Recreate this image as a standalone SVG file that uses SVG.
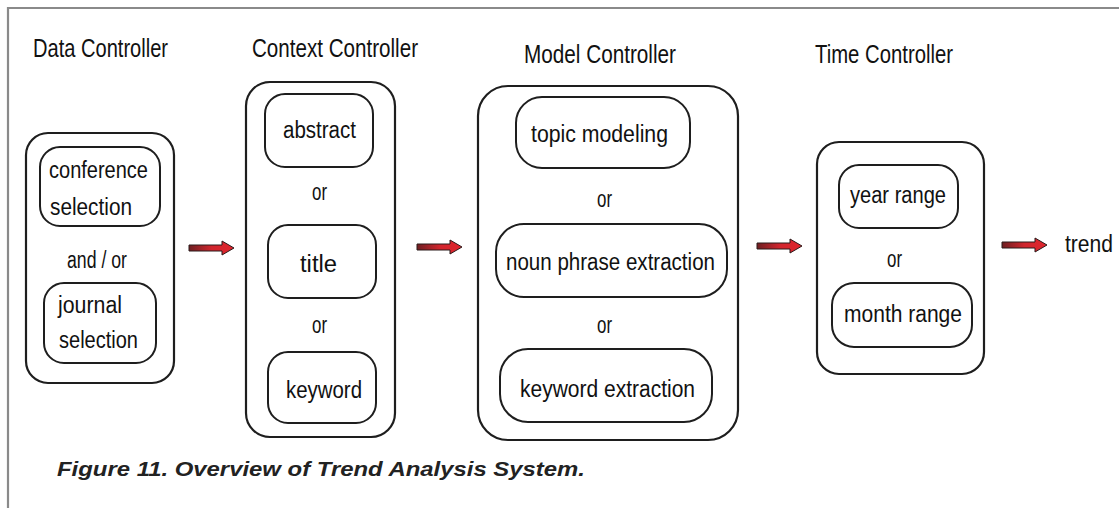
<svg xmlns="http://www.w3.org/2000/svg" width="1119" height="508" viewBox="0 0 1119 508">
<style>
.frame{stroke:#8a8a8a;stroke-width:2.2;fill:none}
.outer{fill:none;stroke:#1e1e1e;stroke-width:2.2}
.inner{fill:none;stroke:#1e1e1e;stroke-width:2}
.t{font-family:"Liberation Sans",Arial,sans-serif;fill:#111;font-size:23.5px}
.h{font-family:"Liberation Sans",Arial,sans-serif;fill:#111;font-size:25px}
.cap{font-family:"Liberation Sans",Arial,sans-serif;font-weight:bold;font-style:italic;fill:#222;font-size:20.5px}
.arrow{fill:url(#ag);stroke:#2a1a1a;stroke-width:1;stroke-linejoin:miter}
</style>
<defs>
<linearGradient id="ag" x1="0" y1="0" x2="1" y2="0">
<stop offset="0" stop-color="#6e1f22"/>
<stop offset="0.5" stop-color="#d0252d"/>
<stop offset="1" stop-color="#e0252d"/>
</linearGradient>
<path id="arr" d="M0,-3 H33 V-7 L45,0 L33,7 V3 H0 Z"/>
</defs>
<rect width="1119" height="508" fill="#ffffff"/>
<path class="frame" d="M8,508 V8 H1119"/>

<g id="data-controller">
<text class="h" x="33" y="57" textLength="135" lengthAdjust="spacingAndGlyphs">Data Controller</text>
<rect class="outer" x="26" y="133" width="148" height="250" rx="22"/>
<g id="conference-selection">
<rect class="inner" x="40" y="147" width="120" height="79" rx="20"/>
<text class="t" x="49" y="178" textLength="99" lengthAdjust="spacingAndGlyphs">conference</text>
<text class="t" x="50" y="215" textLength="82" lengthAdjust="spacingAndGlyphs">selection</text>
</g>
<text class="t" x="67" y="268" textLength="60" lengthAdjust="spacingAndGlyphs">and / or</text>
<g id="journal-selection">
<rect class="inner" x="44" y="283" width="112" height="80" rx="20"/>
<text class="t" x="58" y="313" textLength="64" lengthAdjust="spacingAndGlyphs">journal</text>
<text class="t" x="59" y="348" textLength="79" lengthAdjust="spacingAndGlyphs">selection</text>
</g>
</g>

<g id="context-controller">
<text class="h" x="252" y="57" textLength="166" lengthAdjust="spacingAndGlyphs">Context Controller</text>
<rect class="outer" x="246" y="82" width="149" height="355" rx="24"/>
<g id="abstract">
<rect class="inner" x="265" y="94" width="108" height="73" rx="20"/>
<text class="t" x="283" y="138" textLength="73" lengthAdjust="spacingAndGlyphs">abstract</text>
</g>
<text class="t" x="312" y="200" textLength="15" lengthAdjust="spacingAndGlyphs">or</text>
<g id="title">
<rect class="inner" x="268" y="225" width="108" height="73" rx="20"/>
<text class="t" x="300" y="272" textLength="37" lengthAdjust="spacingAndGlyphs">title</text>
</g>
<text class="t" x="312" y="333" textLength="15" lengthAdjust="spacingAndGlyphs">or</text>
<g id="keyword">
<rect class="inner" x="268" y="352" width="108" height="71" rx="20"/>
<text class="t" x="286" y="398" textLength="76" lengthAdjust="spacingAndGlyphs">keyword</text>
</g>
</g>

<g id="model-controller">
<text class="h" x="524" y="63" textLength="152" lengthAdjust="spacingAndGlyphs">Model Controller</text>
<rect class="outer" x="478" y="86" width="260" height="354" rx="30"/>
<g id="topic-modeling">
<rect class="inner" x="516" y="97" width="174" height="71" rx="26"/>
<text class="t" x="531" y="142" textLength="137" lengthAdjust="spacingAndGlyphs">topic modeling</text>
</g>
<text class="t" x="597" y="207" textLength="15" lengthAdjust="spacingAndGlyphs">or</text>
<g id="noun-phrase-extraction">
<rect class="inner" x="496" y="224" width="231" height="73" rx="28"/>
<text class="t" x="506" y="270" textLength="209" lengthAdjust="spacingAndGlyphs">noun phrase extraction</text>
</g>
<text class="t" x="597" y="333" textLength="15" lengthAdjust="spacingAndGlyphs">or</text>
<g id="keyword-extraction">
<rect class="inner" x="500" y="349" width="212" height="73" rx="28"/>
<text class="t" x="520" y="397" textLength="175" lengthAdjust="spacingAndGlyphs">keyword extraction</text>
</g>
</g>

<g id="time-controller">
<text class="h" x="815" y="63" textLength="138" lengthAdjust="spacingAndGlyphs">Time Controller</text>
<rect class="outer" x="817" y="142" width="167" height="232" rx="22"/>
<g id="year-range">
<rect class="inner" x="839" y="165" width="119" height="63" rx="20"/>
<text class="t" x="850" y="203" textLength="96" lengthAdjust="spacingAndGlyphs">year range</text>
</g>
<text class="t" x="887" y="267" textLength="15" lengthAdjust="spacingAndGlyphs">or</text>
<g id="month-range">
<rect class="inner" x="832" y="283" width="140" height="64" rx="22"/>
<text class="t" x="844" y="322" textLength="118" lengthAdjust="spacingAndGlyphs">month range</text>
</g>
</g>

<g id="trend">
<text class="t" x="1065" y="252" textLength="48" lengthAdjust="spacingAndGlyphs">trend</text>
</g>

<g id="connectors">
<use href="#arr" class="arrow" transform="translate(189,248)"/>
<use href="#arr" class="arrow" transform="translate(417,247)"/>
<use href="#arr" class="arrow" transform="translate(757,246)"/>
<use href="#arr" class="arrow" transform="translate(1002,245)"/>
</g>

<text class="cap" x="57" y="476" textLength="528" lengthAdjust="spacingAndGlyphs">Figure 11. Overview of Trend Analysis System.</text>
</svg>
